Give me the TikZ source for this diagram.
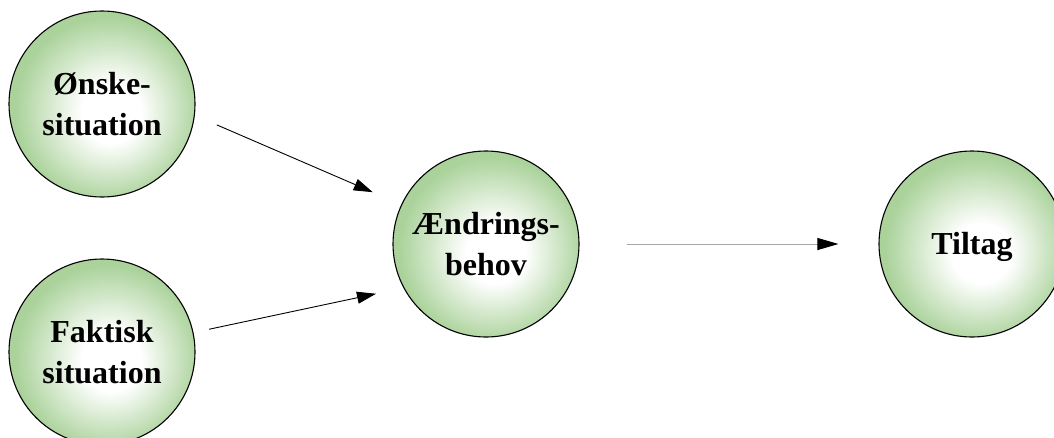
\documentclass[tikz,border=0pt]{standalone}
\usepackage{fontspec}
\setmainfont{Liberation Serif}
\usetikzlibrary{arrows.meta}
\definecolor{bubble}{RGB}{170,210,154}
\pgfdeclareradialshading{bubbleshade}{\pgfpoint{3bp}{-3bp}}{color(0bp)=(white); color(8bp)=(white); color(25bp)=(bubble); color(50bp)=(bubble)}
\tikzset{
  bubblenode/.style={circle, draw=black, line width=1.1pt, shading=bubbleshade,
    minimum size=186pt, inner sep=0pt, align=center,
    font=\fontsize{32}{41}\selectfont\bfseries},
  connarrow/.style={line width=0.9pt, draw=black, -{Triangle[length=19pt,width=12pt]}},
  lightarrow/.style={line width=0.9pt, draw=black!35, -{Triangle[length=21pt,width=12pt,color=black]}}
}
\begin{document}
\begin{tikzpicture}[x=1pt,y=-1pt]
\useasboundingbox (0,0) rectangle (1054,437);
\node[bubblenode] (ons) at (102,104) {Ønske-\\situation};
\node[bubblenode] (fak) at (102,352) {Faktisk\\situation};
\node[bubblenode] (aen) at (486,244) {Ændrings-\\behov};
\node[bubblenode, text depth=2pt] (til) at (972,244) {Tiltag};
\draw[connarrow, shorten <=24pt, shorten >=31pt] (ons.-7.85) -- (aen.155.3);
\draw[connarrow, shorten <=16pt, shorten >=28pt] (fak.12.9) -- (aen.-152.3);
\draw[lightarrow, shorten <=47pt, shorten >=40pt] (aen.east) -- (til.west);
\end{tikzpicture}
\end{document}
